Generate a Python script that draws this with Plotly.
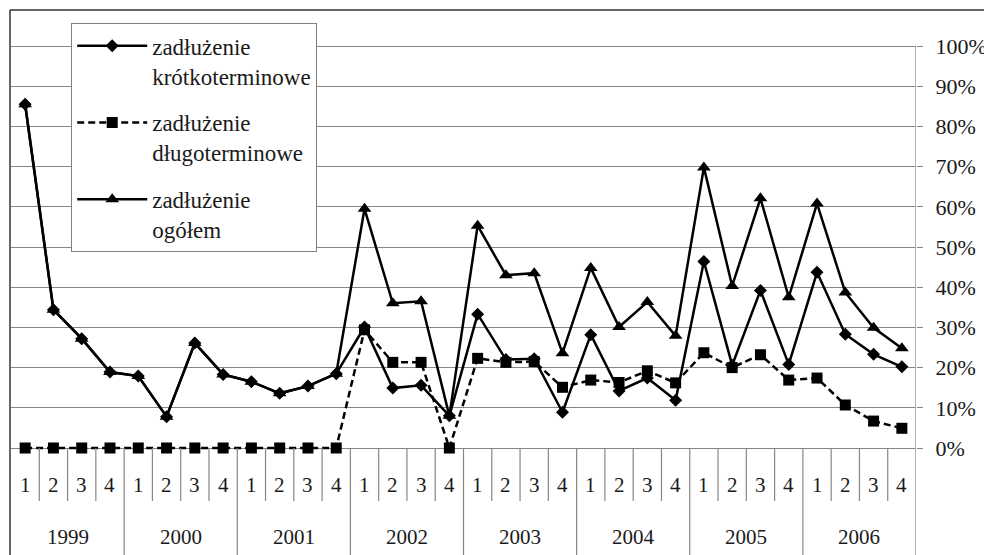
import plotly.graph_objects as go

# ---------------- data ----------------
years = ["1999", "2000", "2001", "2002", "2003", "2004", "2005", "2006"]
quarters = ["1", "2", "3", "4"]
categories = [f"{y} Q{q}" for y in years for q in quarters]

short_term = [85.5, 34.4, 27.2, 18.9, 17.9, 7.8, 26.1, 18.3, 16.5, 13.6, 15.4, 18.5,
              30.1, 14.9, 15.6, 8.0, 33.3, 22.0, 22.2, 8.9, 28.2, 14.2, 17.4, 11.9,
              46.4, 20.6, 39.2, 20.8, 43.7, 28.3, 23.3, 20.2]
long_term = [0, 0, 0, 0, 0, 0, 0, 0, 0, 0, 0, 0,
             29.4, 21.3, 21.3, 0, 22.3, 21.3, 21.5, 15.1, 16.9, 16.3, 19.2, 16.2,
             23.7, 20.0, 23.2, 16.9, 17.4, 10.7, 6.7, 4.9]
total = [85.5, 34.4, 27.2, 18.9, 17.9, 7.8, 26.1, 18.3, 16.5, 13.6, 15.4, 18.5,
         59.5, 36.0, 36.5, 8.0, 55.3, 43.0, 43.5, 23.6, 44.8, 30.1, 36.3, 27.9,
         69.8, 40.3, 62.1, 37.5, 60.8, 38.7, 29.9, 24.8]

names = ["zadłużenie<br>krótkoterminowe", "zadłużenie<br>długoterminowe", "zadłużenie<br>ogółem"]
tick_vals = list(range(0, 101, 10))
tick_text = [f"{v}%" for v in tick_vals]

# ---------------- layout constants ----------------
# the page body adds an 8px margin, so the figure is drawn 8px smaller/offset
OFF = 8
W, H = 992 - OFF, 555 - OFF
ML, MR, MT, MB = 11 - OFF, 76, 10 - OFF, 0
PX_PER_UNIT = 4.02          # pixels per 1 percentage point
ZERO_PX = 448 - OFF         # pixel row of the 0% line (figure coords)
Y_MAX = 100 + (ZERO_PX - 100 * PX_PER_UNIT - MT) / PX_PER_UNIT
Y_MIN = -(H - MB - ZERO_PX) / PX_PER_UNIT
PW = W - ML - MR
PH = H - MT - MB

def px_to_val(py):
    return -(py - OFF - ZERO_PX) / PX_PER_UNIT

FONT = "Liberation Serif"
GRID = "#868686"
TXT = "#1a1a1a"

fig = go.Figure()
fig.add_trace(go.Scatter(x=categories, y=short_term, name=names[0], mode="lines+markers",
                         line=dict(color="black", width=2.5),
                         marker=dict(symbol="diamond", size=10, color="black"),
                         legendgroup="a"))
fig.add_trace(go.Scatter(x=categories, y=long_term, name=names[1], mode="lines+markers",
                         line=dict(color="black", width=2.5, dash="7px,4px"),
                         marker=dict(symbol="square", size=11, color="black"),
                         legendgroup="b"))
fig.add_trace(go.Scatter(x=categories, y=total, name=names[2], mode="lines+markers",
                         line=dict(color="black", width=2.5),
                         marker=dict(symbol="triangle-up", size=12, color="black"),
                         legendgroup="c"))

shapes = []
n = len(categories)
q_bottom = px_to_val(501)
for k in range(1, n):
    is_year = (k % 4 == 0)
    shapes.append(dict(type="line", xref="x", yref="y", x0=k - 0.5, x1=k - 0.5,
                       y0=0, y1=(Y_MIN if is_year else q_bottom),
                       line=dict(color=GRID, width=1.2)))
# right axis line (from 100% down to bottom)
shapes.append(dict(type="line", xref="x", yref="y", x0=n - 0.5, x1=n - 0.5,
                   y0=100, y1=Y_MIN, line=dict(color=GRID, width=1.2)))
# outer frame: left and top
fx = -1 / PW
shapes.append(dict(type="line", xref="paper", yref="paper", x0=fx, x1=fx,
                   y0=0, y1=1, line=dict(color="#333333", width=1.5)))
shapes.append(dict(type="line", xref="paper", yref="paper", x0=fx, x1=(W - ML) / PW,
                   y0=1, y1=1, line=dict(color="#333333", width=1.5)))

annotations = []
q_y = px_to_val(485)
yr_y = px_to_val(537)
for i, c in enumerate(categories):
    annotations.append(dict(x=i, y=q_y, xref="x", yref="y", text=quarters[i % 4], showarrow=False,
                            font=dict(family=FONT, size=21, color=TXT)))
for j, y in enumerate(years):
    annotations.append(dict(x=4 * j + 1.5, y=yr_y, xref="x", yref="y", text=y, showarrow=False,
                            font=dict(family=FONT, size=21, color=TXT)))

fig.update_layout(
    width=W, height=H,
    margin=dict(l=ML, r=MR, t=MT, b=MB, pad=0),
    paper_bgcolor="white", plot_bgcolor="white",
    showlegend=True,
    legend=dict(x=(71 - OFF - ML) / PW, y=1 - (23 - OFF - MT) / PH,
                xanchor="left", yanchor="top",
                bgcolor="white", bordercolor="#808080", borderwidth=1.2,
                font=dict(family=FONT, size=23, color=TXT),
                itemwidth=70, valign="top", tracegroupgap=14, traceorder="grouped"),
    xaxis=dict(type="category", range=[-0.5, n - 0.5], showgrid=False, showticklabels=False,
               ticks="", showline=False, zeroline=False),
    yaxis=dict(range=[Y_MIN, Y_MAX], side="right", tickvals=tick_vals, ticktext=tick_text,
               showgrid=True, gridcolor=GRID, gridwidth=1.2, zeroline=False,
               ticks="outside", ticklen=6, tickcolor=GRID, tickwidth=1.2,
               ticklabelstandoff=8,
               tickfont=dict(family=FONT, size=22, color=TXT), showline=False),
    shapes=shapes,
    annotations=annotations,
)

fig.write_html("out.html")
